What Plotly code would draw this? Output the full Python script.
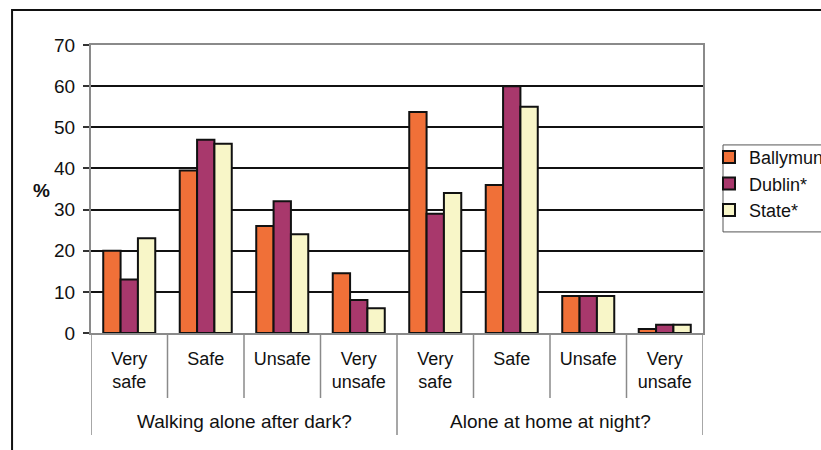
import plotly.graph_objects as go

# Survey categories: two questions, four answers each
groups = ["Walking alone after dark?", "Alone at home at night?"]
answers = ["Very<br>safe", "Safe", "Unsafe", "Very<br>unsafe"]
tick_labels = answers + answers

series_names = ["Ballymun", "Dublin*", "State*"]
ballymun = [20, 39.5, 26, 14.5, 53.7, 36, 9, 1]
dublin = [13, 47, 32, 8, 29, 60, 9, 2]
state = [23, 46, 24, 6, 34, 55, 9, 2]
series_values = [ballymun, dublin, state]
series_colors = ["#F07038", "#A8386C", "#F8F6C8"]

y_ticks = [0, 10, 20, 30, 40, 50, 60, 70]

FONT = "Liberation Sans, Arial, sans-serif"
x_pos = list(range(len(tick_labels)))

fig = go.Figure()
for name, vals, col in zip(series_names, series_values, series_colors):
    fig.add_trace(go.Bar(
        x=x_pos, y=vals, name=name,
        marker=dict(color=col, line=dict(color="#111111", width=2)),
    ))

shapes = []
# outer chart frame
shapes.append(dict(type="rect", xref="paper", yref="paper",
                   x0=-0.129, x1=1.4, y0=-0.6, y1=1.1215,
                   line=dict(color="#111111", width=2), layer="below"))
# legend frame
shapes.append(dict(type="rect", xref="paper", yref="paper",
                   x0=1.0327, x1=1.4, y0=0.351, y1=0.653,
                   line=dict(color="#555555", width=1), layer="below"))
# separators between answers (short) and between questions (long)
n = len(tick_labels)
for b in range(n + 1):
    long_line = b % len(answers) == 0
    shapes.append(dict(type="line", xref="x", yref="paper",
                       x0=b - 0.5, x1=b - 0.5, y0=0,
                       y1=-0.354 if long_line else -0.2257,
                       line=dict(color="#8a8a8a", width=1.5)))

annotations = []
for gi, g in enumerate(groups):
    center = gi * len(answers) + (len(answers) - 1) / 2
    annotations.append(dict(text=g, xref="x", yref="paper", x=center, y=-0.3056,
                            showarrow=False, yanchor="middle",
                            font=dict(family=FONT, size=19, color="#111111")))
annotations.append(dict(text="<b>%</b>", xref="paper", yref="paper", x=-0.098, y=0.4965,
                        showarrow=False, font=dict(family=FONT, size=19, color="#111111")))

fig.update_layout(
    width=821, height=450,
    margin=dict(l=91, r=118, t=45, b=117, autoexpand=False),
    paper_bgcolor="white", plot_bgcolor="white",
    barmode="group", bargap=0.32, bargroupgap=0,
    font=dict(family=FONT, size=19, color="#111111"),
    shapes=shapes, annotations=annotations,
    legend=dict(x=1.0098, y=0.674, xanchor="left", yanchor="top",
                bgcolor="rgba(0,0,0,0)", borderwidth=0,
                font=dict(family=FONT, size=18, color="#111111"),
                tracegroupgap=0, itemwidth=30),
    showlegend=True,
)
fig.update_xaxes(
    range=[-0.5, n - 0.5], tickvals=x_pos, ticktext=tick_labels,
    ticks="", showgrid=False, zeroline=False, ticklabelstandoff=8,
    showline=True, linecolor="#8a8a8a", linewidth=2, mirror=True,
    tickfont=dict(family=FONT, size=18, color="#111111"),
)
fig.update_yaxes(
    range=[0, 70], tickvals=y_ticks, ticks="outside", ticklen=6, tickcolor="#333333",
    tickwidth=2, showgrid=True, gridcolor="#111111", gridwidth=2, zeroline=False,
    showline=True, linecolor="#8a8a8a", linewidth=2, mirror=True, ticklabelstandoff=4,
    tickfont=dict(family=FONT, size=19, color="#111111"),
)

fig.write_html("out.html")
